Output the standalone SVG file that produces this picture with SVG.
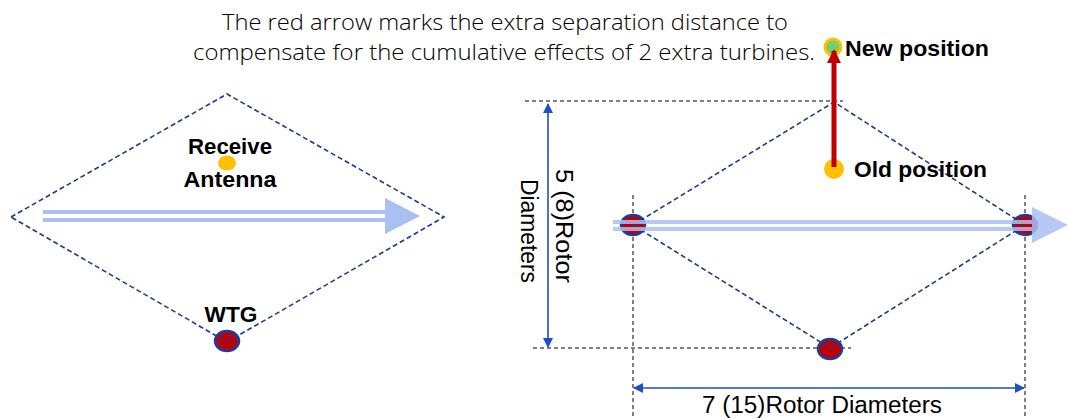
<svg xmlns="http://www.w3.org/2000/svg" width="1069" height="419" viewBox="0 0 1069 419">
<defs>
<style>
.diamond{fill:none;stroke:#1f3c8c;stroke-width:1.6;stroke-dasharray:5,3}
.dim{fill:none;stroke:#000;stroke-width:1;stroke-dasharray:4,3}
.wtg{fill:#c00000;stroke:#1f3c9c;stroke-width:2.5}
.wind{stroke:#a9c0f3;stroke-width:4;fill:none}
.windhead{fill:#a9c0f3}
.lbl{font-family:"Liberation Sans",Arial,sans-serif;font-weight:bold;font-size:22px;fill:#000}
.title{font-family:"Open Sans","Liberation Sans",sans-serif;font-weight:300;font-size:22px;fill:#000}
.dimtxt{font-family:"Liberation Sans",Arial,sans-serif;font-size:23px;fill:#000}
.dimline{stroke:#1f4fc4;stroke-width:1.6;fill:none}
</style>
<marker id="blueArrow" markerWidth="10" markerHeight="10" refX="9" refY="5" orient="auto-start-reverse" markerUnits="userSpaceOnUse" viewBox="0 0 10 10">
<path d="M0,0 L10,5 L0,10 z" fill="#1f4fc4"/>
</marker>
<marker id="redArrow" markerWidth="14" markerHeight="14" refX="12" refY="7" orient="auto" markerUnits="userSpaceOnUse" viewBox="0 0 14 14">
<path d="M0,0 L14,7 L0,14 z" fill="#c00000"/>
</marker>
</defs>

<g id="title">
<text class="title" x="505" y="30" text-anchor="middle" textLength="566" lengthAdjust="spacingAndGlyphs">The red arrow marks the extra separation distance to</text>
<text class="title" x="504" y="60" text-anchor="middle" textLength="622" lengthAdjust="spacingAndGlyphs">compensate for the cumulative effects of 2 extra turbines.</text>
</g>

<!-- Left diagram -->
<g id="left-diagram">
<g id="left-wind">
<line class="wind" x1="43" y1="212" x2="388" y2="212" stroke-width="3.5"/>
<line class="wind" x1="43" y1="220" x2="388" y2="220" stroke-width="3.5"/>
<polygon class="windhead" points="385,198 420,216 385,234"/>
</g>
<g id="left-antenna">
<text class="lbl" x="230" y="154" text-anchor="middle" textLength="84" lengthAdjust="spacingAndGlyphs">Receive</text>
<ellipse cx="227" cy="163" rx="9" ry="7.5" fill="#ffc000"/>
<text class="lbl" x="230" y="187" text-anchor="middle" textLength="93" lengthAdjust="spacingAndGlyphs">Antenna</text>
</g>
<g id="left-wtg">
<ellipse class="wtg" cx="227" cy="341" rx="12" ry="10"/>
<text class="lbl" x="231" y="322" text-anchor="middle" textLength="53" lengthAdjust="spacingAndGlyphs">WTG</text>
</g>
<polygon id="left-diamond" class="diamond" points="11,217 227,94 444,217 227,342"/>
</g>

<!-- Right diagram -->
<g id="dimensions">
<line class="dim" x1="525" y1="101" x2="843" y2="101"/>
<line class="dim" x1="533" y1="348" x2="851" y2="348"/>
<line class="dim" x1="633" y1="195" x2="633" y2="419"/>
<line class="dim" x1="1025" y1="195" x2="1025" y2="419"/>
<line class="dimline" x1="548" y1="104" x2="548" y2="347" marker-start="url(#blueArrow)" marker-end="url(#blueArrow)"/>
<line class="dimline" x1="634" y1="388" x2="1024" y2="388" marker-start="url(#blueArrow)" marker-end="url(#blueArrow)"/>
<text class="dimtxt" transform="translate(556,226) rotate(90)" text-anchor="middle" textLength="114" lengthAdjust="spacingAndGlyphs">5 (8)Rotor</text>
<text class="dimtxt" transform="translate(521,231) rotate(90)" text-anchor="middle" textLength="104" lengthAdjust="spacingAndGlyphs">Diameters</text>
<text class="dimtxt" x="822" y="413" text-anchor="middle" textLength="240" lengthAdjust="spacingAndGlyphs">7 (15)Rotor Diameters</text>
</g>

<g id="wtg-left">
<ellipse class="wtg" cx="633" cy="225" rx="12" ry="10"/>
</g>
<g id="wtg-right">
<ellipse class="wtg" cx="1025" cy="225" rx="12" ry="10"/>
</g>
<g id="wtg-bottom">
<ellipse class="wtg" cx="830" cy="349" rx="12" ry="10"/>
</g>

<polygon id="right-diamond" class="diamond" points="633,225 834,102 1025,225 830,348"/>

<g id="right-wind" opacity="0.85">
<line class="wind" x1="613" y1="222" x2="1035" y2="222" stroke-width="3.5"/>
<line class="wind" x1="613" y1="229" x2="1035" y2="229" stroke-width="3.5"/>
<polygon class="windhead" points="1032,207 1068,225 1032,243"/>
</g>

<g id="old-position">
<circle cx="834" cy="169" r="10" fill="#ffc000"/>
<text class="lbl" x="854" y="177" textLength="133" lengthAdjust="spacingAndGlyphs">Old position</text>
</g>
<g id="new-position">
<circle cx="833" cy="47" r="9.5" fill="#ffc000"/>
<circle cx="833" cy="47" r="6.5" fill="#70d070"/>
<text class="lbl" x="845" y="56" textLength="144" lengthAdjust="spacingAndGlyphs">New position</text>
</g>
<g id="connectors">
<line x1="834" y1="167" x2="834" y2="51" stroke="#c00000" stroke-width="5" marker-end="url(#redArrow)"/>
</g>
</svg>
